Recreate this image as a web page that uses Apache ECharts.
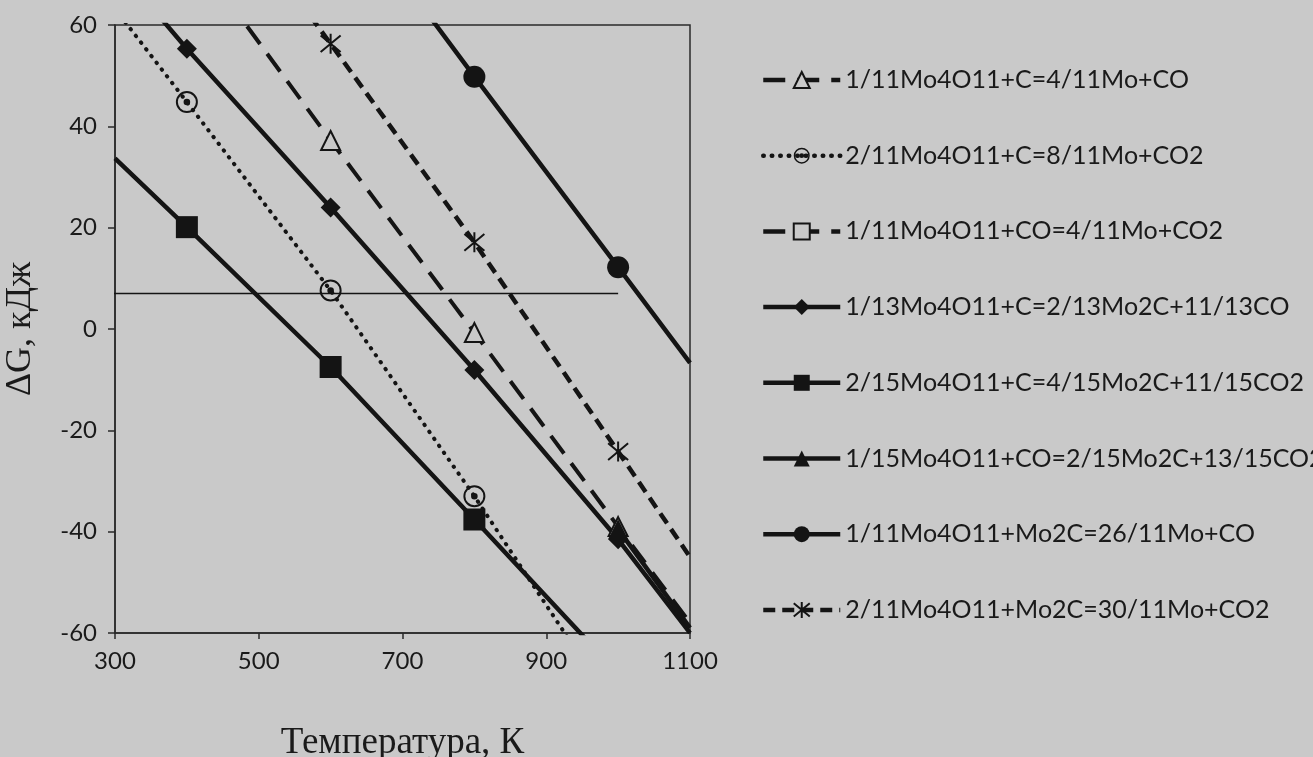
<!DOCTYPE html>
<html>
<head>
<meta charset="utf-8">
<script src="https://cdn.jsdelivr.net/npm/echarts@6/dist/echarts.min.js"></script>
<style>
html,body{margin:0;padding:0;background:#c9c9c9;}
#chart{width:1313px;height:757px;}
</style>
</head>
<body>
<div id="chart"></div>
<script>
// Temperatures (K) at which each series is given; null = no point
var temps = [300, 400, 600, 800, 1000, 1100];
// Marker shown only at these temperatures
var markerTemps = [400, 600, 800, 1000];
var xTicks = [300, 500, 700, 900, 1100];
var yTicks = [-60, -40, -20, 0, 20, 40, 60];

var names = [
  '1/11Mo4O11+C=4/11Mo+CO',
  '2/11Mo4O11+C=8/11Mo+CO2',
  '1/11Mo4O11+CO=4/11Mo+CO2',
  '1/13Mo4O11+C=2/13Mo2C+11/13CO',
  '2/15Mo4O11+C=4/15Mo2C+11/15CO2',
  '1/15Mo4O11+CO=2/15Mo2C+13/15CO2',
  '1/11Mo4O11+Mo2C=26/11Mo+CO',
  '2/11Mo4O11+Mo2C=30/11Mo+CO2'
];
// ΔG values (kJ) at temps
var s1 = [null, 76, 37.2, -0.7, -39, -58];
var s2 = [63.2, 44.8, 7.6, -33, -76, null];
var s3 = [null, null, null, null, null, null];
var s4 = [72, 55.3, 24.0, -8.1, -41.5, -60];
var s5 = [33.7, 20.1, -7.5, -37.6, -68, null];
var s6 = [null, null, null, null, -39.5, -59];
var s7 = [null, null, 88, 49.8, 12.2, -6.7];
var s8 = [null, 95, 56.3, 17.1, -24.2, -45];
// thin horizontal reference line
var refT = [242, 1000];
var refG = 7;

var BG = '#c9c9c9';
var INK = '#141414';

function pts(vals) {
  var out = [];
  for (var i = 0; i < temps.length; i++) {
    if (vals[i] === null) continue;
    var item = { value: [temps[i], vals[i]] };
    if (markerTemps.indexOf(temps[i]) < 0) item.symbol = 'none';
    out.push(item);
  }
  return out;
}

var ringDot = 'path://M0,10A10,10,0,1,1,20,10A10,10,0,1,1,0,10ZM1.8,10A8.2,8.2,0,1,0,18.2,10A8.2,8.2,0,1,0,1.8,10ZM7,10A3,3,0,1,1,13,10A3,3,0,1,1,7,10Z';
var star = 'path://M0,0L10,10M10,0L0,10M5,-1L5,11';

function mk(name, data, lineType, width, symbol, size, itemStyle) {
  return {
    name: name, type: 'line', data: pts(data), clip: true,
    symbol: symbol, symbolSize: size, showAllSymbol: true,
    lineStyle: { color: INK, width: width, type: lineType, cap: 'butt' },
    itemStyle: itemStyle,
    emphasis: { disabled: true },
    animation: false, z: 3
  };
}

var series = [
  mk(names[0], s1, [22, 12], 4, 'triangle', 19, { color: BG, borderColor: INK, borderWidth: 2 }),
  mk(names[1], s2, [0.5, 8], 4, ringDot, 22, { color: INK }),
  mk(names[2], s3, [22, 12], 4, 'rect', 18, { color: BG, borderColor: INK, borderWidth: 2 }),
  mk(names[3], s4, 'solid', 4.5, 'diamond', 20, { color: INK }),
  mk(names[4], s5, 'solid', 4.5, 'rect', 22, { color: INK }),
  mk(names[5], s6, 'solid', 4.5, 'triangle', 20, { color: INK }),
  mk(names[6], s7, 'solid', 4.5, 'circle', 22, { color: INK }),
  mk(names[7], s8, [12, 7], 4.5, star, 20, { color: 'rgba(0,0,0,0)', borderColor: INK, borderWidth: 2 })
];
series[1].lineStyle.cap = 'round';
series.push({
  name: 'ref', type: 'line', clip: false, symbol: 'none',
  data: refT.map(function (t) { return [t, refG]; }),
  lineStyle: { color: INK, width: 1.6 }, animation: false, z: 2,
  emphasis: { disabled: true }
});

var chart = echarts.init(document.getElementById('chart'));
chart.setOption({
  backgroundColor: BG,
  animation: false,
  grid: { left: 115, right: 623, top: 25, bottom: 124, outerBoundsMode: 'none', containLabel: false, show: true, borderColor: '#2a2a2a', borderWidth: 1.5, backgroundColor: 'transparent' },
  xAxis: {
    type: 'value', min: xTicks[0], max: xTicks[xTicks.length - 1], interval: 200,
    name: 'Температура, К', nameLocation: 'middle', nameGap: 92,
    nameTextStyle: { fontFamily: 'Liberation Serif', fontSize: 37, color: '#1a1a1a' },
    axisLine: { show: true, onZero: false, lineStyle: { color: '#2a2a2a', width: 1.5 } },
    axisTick: { show: true, length: 6, lineStyle: { color: '#2a2a2a', width: 1.5 } },
    axisLabel: { fontFamily: 'Lato', fontSize: 24, color: '#1a1a1a', margin: 16, formatter: function (v) { return String(v); } },
    splitLine: { show: false }
  },
  yAxis: {
    type: 'value', min: yTicks[0], max: yTicks[yTicks.length - 1], interval: 20,
    name: 'ΔG, кДж', nameLocation: 'middle', nameGap: 76,
    nameTextStyle: { fontFamily: 'Liberation Serif', fontSize: 36, color: '#1a1a1a' },
    axisLine: { show: true, onZero: false, lineStyle: { color: '#2a2a2a', width: 1.5 } },
    axisTick: { show: true, length: 7, lineStyle: { color: '#2a2a2a', width: 1.5 } },
    axisLabel: { fontFamily: 'Lato', fontSize: 24, color: '#1a1a1a', margin: 18, formatter: function (v) { return String(v); } },
    splitLine: { show: false }
  },
  legend: {
    data: names, orient: 'vertical', left: 756, top: 60,
    itemWidth: 77, itemHeight: 20, itemGap: 45.7,
    lineStyle: { width: 4.5 },
    textStyle: { fontFamily: 'Lato', fontSize: 25, color: '#1a1a1a', lineHeight: 30 },
    selectedMode: false
  },
  series: series
});
</script>
</body>
</html>
